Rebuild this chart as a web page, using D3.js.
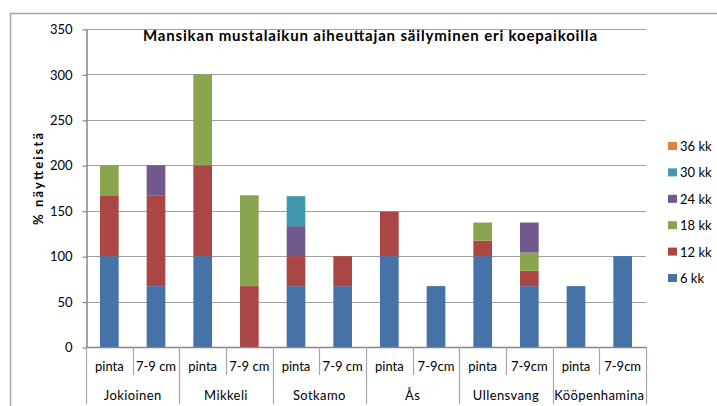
<!DOCTYPE html>
<html>
<head>
<meta charset="utf-8">
<script src="https://cdn.jsdelivr.net/npm/d3@7"></script>
<style>
  body { margin: 0; background: #fff; }
  svg { display: block; font-family: Lato, 'Open Sans', sans-serif; }
</style>
</head>
<body>
<div id="chart"></div>
<script>
const chartID = '#chart';

const title = 'Mansikan mustalaikun aiheuttajan säilyminen eri koepaikoilla';
const yLabel = '% näytteistä';
const sites = ['Jokioinen', 'Mikkeli', 'Sotkamo', 'Ås', 'Ullensvang', 'Kööpenhamina'];
const depths = [
  'pinta', '7-9 cm', 'pinta', '7-9 cm', 'pinta', '7-9 cm',
  'pinta', '7-9cm', 'pinta', '7-9cm', 'pinta', '7-9cm',
];
const seriesNames = ['6 kk', '12 kk', '18 kk', '24 kk', '30 kk', '36 kk'];
const seriesColors = ['#4572A7', '#AA4643', '#89A54E', '#71588F', '#4198AF', '#DB843D'];

// one value per bar, bars in the same order as depths
const kk6 = [100, 67, 100, 0, 67, 67, 100, 67, 100, 67, 67, 100];
const kk12 = [67, 100, 100, 67, 33, 33, 49, 0, 17, 17, 0, 0];
const kk18 = [33, 0, 100, 100, 0, 0, 0, 0, 20, 20, 0, 0];
const kk24 = [0, 33, 0, 0, 33, 0, 0, 0, 0, 33, 0, 0];
const kk30 = [0, 0, 0, 0, 33, 0, 0, 0, 0, 0, 0, 0];
const kk36 = [0, 0, 0, 0, 0, 0, 0, 0, 0, 0, 0, 0];
const yTicks = [0, 50, 100, 150, 200, 250, 300, 350];

const width = 717;
const height = 406;
const plot = { left: 86, right: 646, top: 29, bottom: 347 };

const svg = d3
  .select(chartID)
  .append('svg')
  .attr('width', width)
  .attr('height', height);

// outer chart frame (runs off the picture on the right and bottom)
svg
  .append('rect')
  .attr('x', 10.5)
  .attr('y', 13.5)
  .attr('width', 720)
  .attr('height', 400)
  .attr('fill', '#fff')
  .attr('stroke', '#a6a6a6')
  .attr('stroke-width', 1.5);

// build the table for stacking
const allSeries = [kk6, kk12, kk18, kk24, kk30, kk36];
const table = depths.map((depth, i) => {
  const row = { index: i };
  seriesNames.forEach((name, s) => (row[name] = allSeries[s][i]));
  return row;
});
const stacked = d3.stack().keys(seriesNames)(table);

const xScale = d3
  .scaleBand()
  .domain(d3.range(depths.length))
  .range([plot.left, plot.right])
  .paddingInner(0.6)
  .paddingOuter(0.3);
const yScale = d3.scaleLinear().domain([0, 350]).range([plot.bottom, plot.top]);

// gridlines
svg
  .append('g')
  .selectAll('line')
  .data(yTicks.filter((t) => t > 0))
  .join('line')
  .attr('x1', plot.left)
  .attr('x2', plot.right)
  .attr('y1', (d) => Math.round(yScale(d)) + 0.5)
  .attr('y2', (d) => Math.round(yScale(d)) + 0.5)
  .attr('stroke', '#a0a0a0')
  .attr('stroke-width', 1.2);

// bars
svg
  .append('g')
  .selectAll('g')
  .data(stacked)
  .join('g')
  .attr('fill', (d, i) => seriesColors[i])
  .selectAll('rect')
  .data((d) => d.filter((p) => p[1] - p[0] > 0))
  .join('rect')
  .attr('x', (d) => xScale(d.data.index))
  .attr('y', (d) => yScale(d[1]))
  .attr('width', xScale.bandwidth())
  .attr('height', (d) => yScale(d[0]) - yScale(d[1]));

// y axis
const yAxis = svg
  .append('g')
  .attr('transform', `translate(${plot.left + 0.5}, 0.5)`)
  .call(d3.axisLeft(yScale).tickValues(yTicks).tickSize(4).tickPadding(10).tickSizeOuter(0));
yAxis.select('.domain').attr('stroke', '#868686').attr('stroke-width', 1.5);
yAxis.selectAll('.tick line').attr('stroke', '#868686').attr('stroke-width', 1.2);
yAxis.selectAll('text').attr('font-size', 13).attr('fill', '#000').attr('font-family', 'Lato');

// x axis line
svg
  .append('line')
  .attr('x1', plot.left)
  .attr('x2', plot.right)
  .attr('y1', plot.bottom + 0.5)
  .attr('y2', plot.bottom + 0.5)
  .attr('stroke', '#868686')
  .attr('stroke-width', 1.5);

// two level category axis
const step = xScale.step();
const edge = (i) => xScale(i) - (step - xScale.bandwidth()) / 2;
const xAxis = svg.append('g');
xAxis
  .selectAll('line.sub')
  .data(d3.range(depths.length + 1))
  .join('line')
  .attr('x1', (i) => Math.round(i < depths.length ? edge(i) : plot.right) + 0.5)
  .attr('x2', (i) => Math.round(i < depths.length ? edge(i) : plot.right) + 0.5)
  .attr('y1', plot.bottom)
  .attr('y2', (i) => (i % 2 === 0 ? 404 : 375))
  .attr('stroke', '#a6a6a6')
  .attr('stroke-width', 1.2);
xAxis
  .selectAll('text.depth')
  .data(depths)
  .join('text')
  .attr('x', (d, i) => xScale(i) + xScale.bandwidth() / 2)
  .attr('y', 371)
  .attr('text-anchor', 'middle')
  .attr('font-size', 13)
  .text((d) => d);
xAxis
  .selectAll('text.site')
  .data(sites)
  .join('text')
  .attr('x', (d, i) => edge(i * 2) + step)
  .attr('y', 400)
  .attr('text-anchor', 'middle')
  .attr('font-size', 13)
  .attr('letter-spacing', 0.4)
  .text((d) => d);

// title
svg
  .append('text')
  .attr('x', 370)
  .attr('y', 41)
  .attr('text-anchor', 'middle')
  .attr('font-size', 15)
  .attr('font-weight', 'bold')
  .attr('textLength', 454)
  .attr('lengthAdjust', 'spacing')
  .text(title);

// y axis label
svg
  .append('text')
  .attr('transform', 'translate(43, 179) rotate(-90)')
  .attr('text-anchor', 'middle')
  .attr('font-size', 13)
  .attr('font-weight', 'bold')
  .attr('textLength', 92)
  .attr('lengthAdjust', 'spacing')
  .text(yLabel);

// legend, newest series on top
const legend = svg
  .append('g')
  .selectAll('g')
  .data(seriesNames.map((name, i) => ({ name, color: seriesColors[i] })).reverse())
  .join('g')
  .attr('transform', (d, i) => `translate(668, ${146 + i * 26.4})`);
legend
  .append('rect')
  .attr('x', 0)
  .attr('y', -4)
  .attr('width', 9)
  .attr('height', 8)
  .attr('fill', (d) => d.color);
legend
  .append('text')
  .attr('x', 12)
  .attr('y', 5)
  .attr('font-size', 13)
  .text((d) => d.name);
</script>
</body>
</html>
